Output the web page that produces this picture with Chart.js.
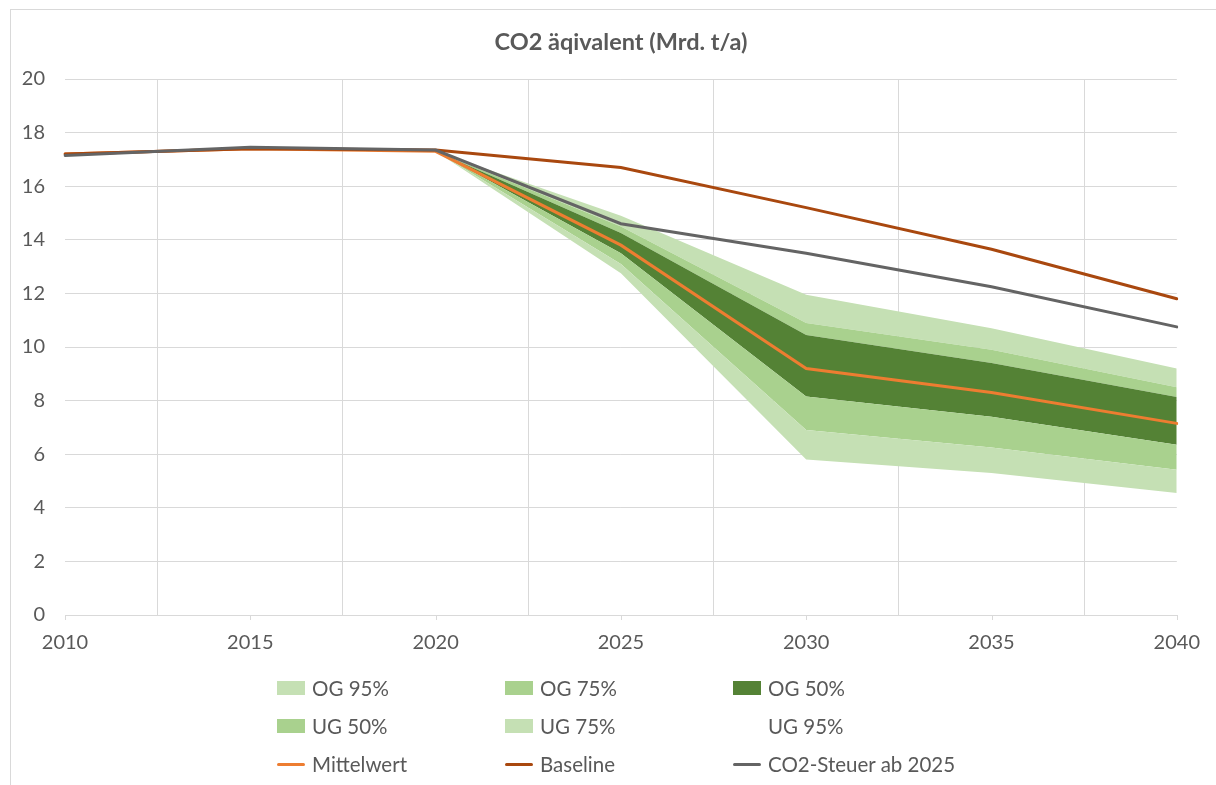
<!DOCTYPE html>
<html>
<head>
<meta charset="utf-8">
<script src="https://cdn.jsdelivr.net/npm/chart.js@4.4.1/dist/chart.umd.min.js"></script>
<style>
    html, body { margin: 0; padding: 0; background: #fff; overflow: hidden; }
    body { width: 1216px; height: 785px; position: relative; font-family: Lato, sans-serif; color: #595959; }
    #frame { position: absolute; left: 10px; top: 9px; width: 1220px; height: 790px; border-left: 1px solid #d9d9d9; border-top: 1px solid #d9d9d9; }
    #title { position: absolute; left: 65px; width: 1112px; top: 26px; text-align: center; font-weight: bold; font-size: 23.5px; line-height: 30px; }
    #wrap { position: absolute; left: 0; top: 0; width: 1216px; height: 785px; }
    #legend { position: absolute; left: 277px; top: 669px; display: grid; grid-template-columns: 228px 228px 228px; }
    .item { display: flex; align-items: center; height: 38px; font-size: 20.5px; white-space: nowrap; }
    .sw { width: 28px; height: 14px; margin-right: 7px; flex-shrink: 0; }
    .ln { width: 28px; height: 3px; border-radius: 2px; margin-right: 7px; flex-shrink: 0; }
</style>
</head>
<body>
<div id="frame"></div>
<div id="wrap"><canvas id="co2Chart" width="1216" height="785"></canvas></div>
<div id="title">CO2 äqivalent (Mrd. t/a)</div>
<div id="legend"></div>
<script>
    // ---- data (Mrd. t/a) ----
    const years = ['2010', '2015', '2020', '2025', '2030', '2035', '2040'];
    const yTicks = [0, 2, 4, 6, 8, 10, 12, 14, 16, 18, 20];

    const mittelwert = [17.2, 17.4, 17.3, 13.8, 9.2, 8.3, 7.15];
    const baseline   = [17.2, 17.4, 17.35, 16.7, 15.2, 13.65, 11.8];
    const co2Steuer  = [17.15, 17.45, 17.35, 14.6, 13.5, 12.25, 10.75];

    // band boundaries, bottom to top
    const ug95 = [17.2, 17.4, 17.3, 12.75, 5.8, 5.3, 4.55];
    const ug75 = [17.2, 17.4, 17.3, 13.1, 6.9, 6.25, 5.42];
    const ug50 = [17.2, 17.4, 17.3, 13.5, 8.15, 7.4, 6.35];
    const og50 = [17.2, 17.4, 17.3, 14.25, 10.45, 9.4, 8.13];
    const og75 = [17.2, 17.4, 17.3, 14.5, 10.9, 9.9, 8.5];
    const og95 = [17.2, 17.4, 17.3, 14.9, 11.95, 10.7, 9.2];

    const LIGHT = '#C5E0B4', MID = '#A9D18E', DARK = '#548235';
    const TEXT = '#595959', GRID = '#d9d9d9';

    function lineSet(label, data, color) {
        return { label, data, borderColor: color, backgroundColor: color, borderWidth: 3,
                 pointRadius: 0, tension: 0, fill: false, borderCapStyle: 'round', isLine: true };
    }
    function band(label, data, color, fill) {
        return { label, data, borderWidth: 0, borderColor: 'rgba(0,0,0,0)', backgroundColor: color,
                 pointRadius: 0, tension: 0, fill };
    }

    // lines first so they are drawn on top
    const datasets = [
        lineSet('CO2-Steuer ab 2025', co2Steuer, '#646464'),
        lineSet('Baseline', baseline, '#A9480F'),
        lineSet('Mittelwert', mittelwert, '#ED7D31'),
        band('UG 95%', ug95, 'rgba(0,0,0,0)', false),
        band('UG 75%', ug75, LIGHT, '-1'),
        band('UG 50%', ug50, MID, '-1'),
        band('OG 50%', og50, DARK, '-1'),
        band('OG 75%', og75, MID, '-1'),
        band('OG 95%', og95, LIGHT, '-1')
    ];

    const tickMarks = {
        id: 'tickMarks',
        afterDraw(chart) {
            const xs = chart.scales.x, ctx = chart.ctx;
            ctx.save();
            ctx.strokeStyle = GRID;
            ctx.lineWidth = 1;
            xs.ticks.forEach((t, i) => {
                const px = Math.round(xs.getPixelForTick(i)) + 0.5;
                ctx.beginPath();
                ctx.moveTo(px, xs.top);
                ctx.lineTo(px, xs.top + 5);
                ctx.stroke();
            });
            ctx.restore();
        }
    };

    const chart = new Chart(document.getElementById('co2Chart'), {
        type: 'line',
        data: { labels: years, datasets },
        options: {
            responsive: false,
            animation: false,
            layout: { padding: { left: 0, right: 39, top: 79, bottom: 125 } },
            plugins: { legend: { display: false }, tooltip: { enabled: false } },
            scales: {
                x: {
                    offset: false,
                    grid: { offset: true, color: GRID, drawTicks: false },
                    border: { color: GRID },
                    ticks: { color: TEXT, font: { family: 'Lato', size: 20 }, padding: 16, maxRotation: 0 },
                    afterFit(s) { s.height = 45; }
                },
                y: {
                    min: 0, max: 20,
                    afterBuildTicks(s) { s.ticks = yTicks.map(v => ({ value: v })); },
                    grid: { color: GRID, drawTicks: false },
                    border: { display: false },
                    ticks: { color: TEXT, font: { family: 'Lato', size: 20 }, padding: 20 },
                    afterFit(s) { s.width = 65; }
                }
            }
        },
        plugins: [tickMarks]
    });

    // legend: bands top to bottom, then lines
    const bands = chart.data.datasets.filter(d => !d.isLine).reverse();
    const lines = chart.data.datasets.filter(d => d.isLine);
    const order = bands.concat([lines[2], lines[1], lines[0]]);
    const legend = document.getElementById('legend');
    order.forEach(d => {
        const sw = d.isLine
            ? `<div class="ln" style="background:${d.borderColor}"></div>`
            : `<div class="sw" style="background:${d.backgroundColor}"></div>`;
        legend.insertAdjacentHTML('beforeend', `<div class="item">${sw}<span>${d.label}</span></div>`);
    });
</script>
</body>
</html>
